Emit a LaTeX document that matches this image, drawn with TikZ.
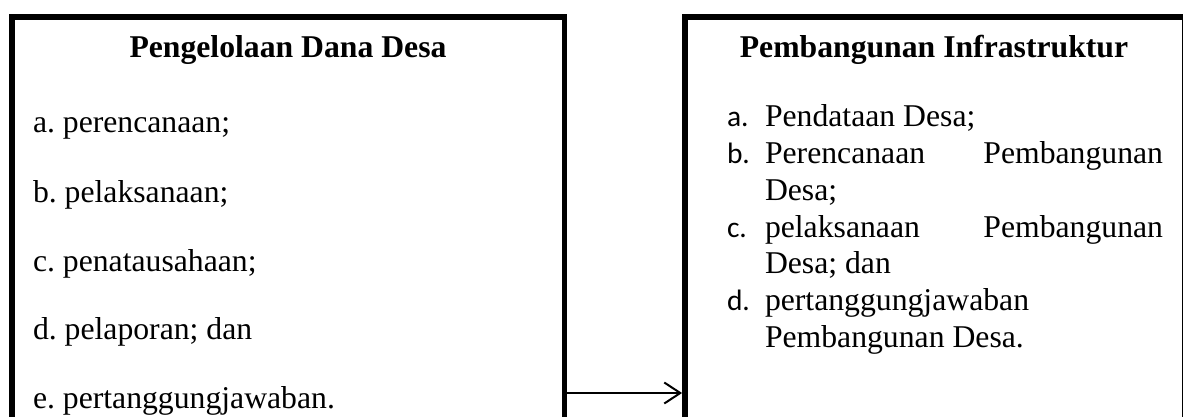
\documentclass[tikz,border=0pt]{standalone}
\usepackage{fontspec}
\setmainfont{Liberation Serif}
\newfontfamily\lblfont{Carlito}
\usetikzlibrary{arrows.meta}
\frenchspacing
\begin{document}
\frenchspacing
\begin{tikzpicture}[x=1pt,y=-1pt,
  boxline/.style={line width=5.8pt, line join=miter},
  frame/.style={draw=none, inner sep=0pt, outer sep=0pt},
  titletxt/.style={anchor=base, inner sep=0pt, outer sep=0pt, font=\fontsize{31.7}{38}\selectfont\bfseries},
  itemtxt/.style={anchor=base west, inner sep=0pt, outer sep=0pt, font=\fontsize{31.7}{38}\selectfont},
  itemright/.style={anchor=base east, inner sep=0pt, outer sep=0pt, font=\fontsize{31.7}{38}\selectfont},
  lbltxt/.style={anchor=base west, inner sep=0pt, outer sep=0pt, font=\fontsize{29.5}{36}\lblfont},
  flow/.style={line width=2pt, -{Straight Barb[length=16pt,width=21pt,line width=2pt]}}]
\useasboundingbox (0,0) rectangle (1183,417);
\clip (0,0) rectangle (1183,417);
% frames
\node[frame, minimum width=552.5pt, minimum height=443pt] (L) at (288.25,238.5) {};
\node[frame, minimum width=500pt, minimum height=443pt] (R) at (935,238.5) {};
\draw[boxline] (L.south west) -- (L.north west) -- (L.north east) -- (L.south east);
\draw[boxline] (R.south west) -- (R.north west) -- (R.north east) -- (R.south east);
% left box
\node[titletxt] (lt) at (288,58) {Pengelolaan Dana Desa};
\node[itemtxt] (la) at (33,132) {a. perencanaan;};
\node[itemtxt] (lb) at (33,202) {b. pelaksanaan;};
\node[itemtxt] (lc) at (33,271) {c. penatausahaan;};
\node[itemtxt] (ld) at (33,339) {d. pelaporan; dan};
\node[itemtxt] (le) at (33,408) {e. pertanggungjawaban.};
% right box
\node[titletxt] (rt) at (934,58) {Pembangunan Infrastruktur};
\node[lbltxt] (ra) at (727,127) {a.};
\node[itemtxt] (ra1) at (765,127) {Pendataan Desa;};
\node[lbltxt] (rb) at (727,163.7) {b.};
\node[itemtxt] (rb1) at (765,163.7) {Perencanaan};
\node[itemright] (rb2) at (1163,163.7) {Pembangunan};
\node[itemtxt] (rb3) at (765,200.4) {Desa;};
\node[lbltxt] (rc) at (727,237.1) {c.};
\node[itemtxt] (rc1) at (765,237.1) {pelaksanaan};
\node[itemright] (rc2) at (1163,237.1) {Pembangunan};
\node[itemtxt] (rc3) at (765,273.8) {Desa; dan};
\node[lbltxt] (rd) at (727,310.5) {d.};
\node[itemtxt] (rd1) at (765,310.5) {pertanggungjawaban};
\node[itemtxt] (rd2) at (765,347.2) {Pembangunan Desa.};
% connector
\coordinate (ay) at (0,393);
\draw[flow] (L.east |- ay) -- ([xshift=-2.9pt]R.west |- ay);
\end{tikzpicture}
\end{document}
